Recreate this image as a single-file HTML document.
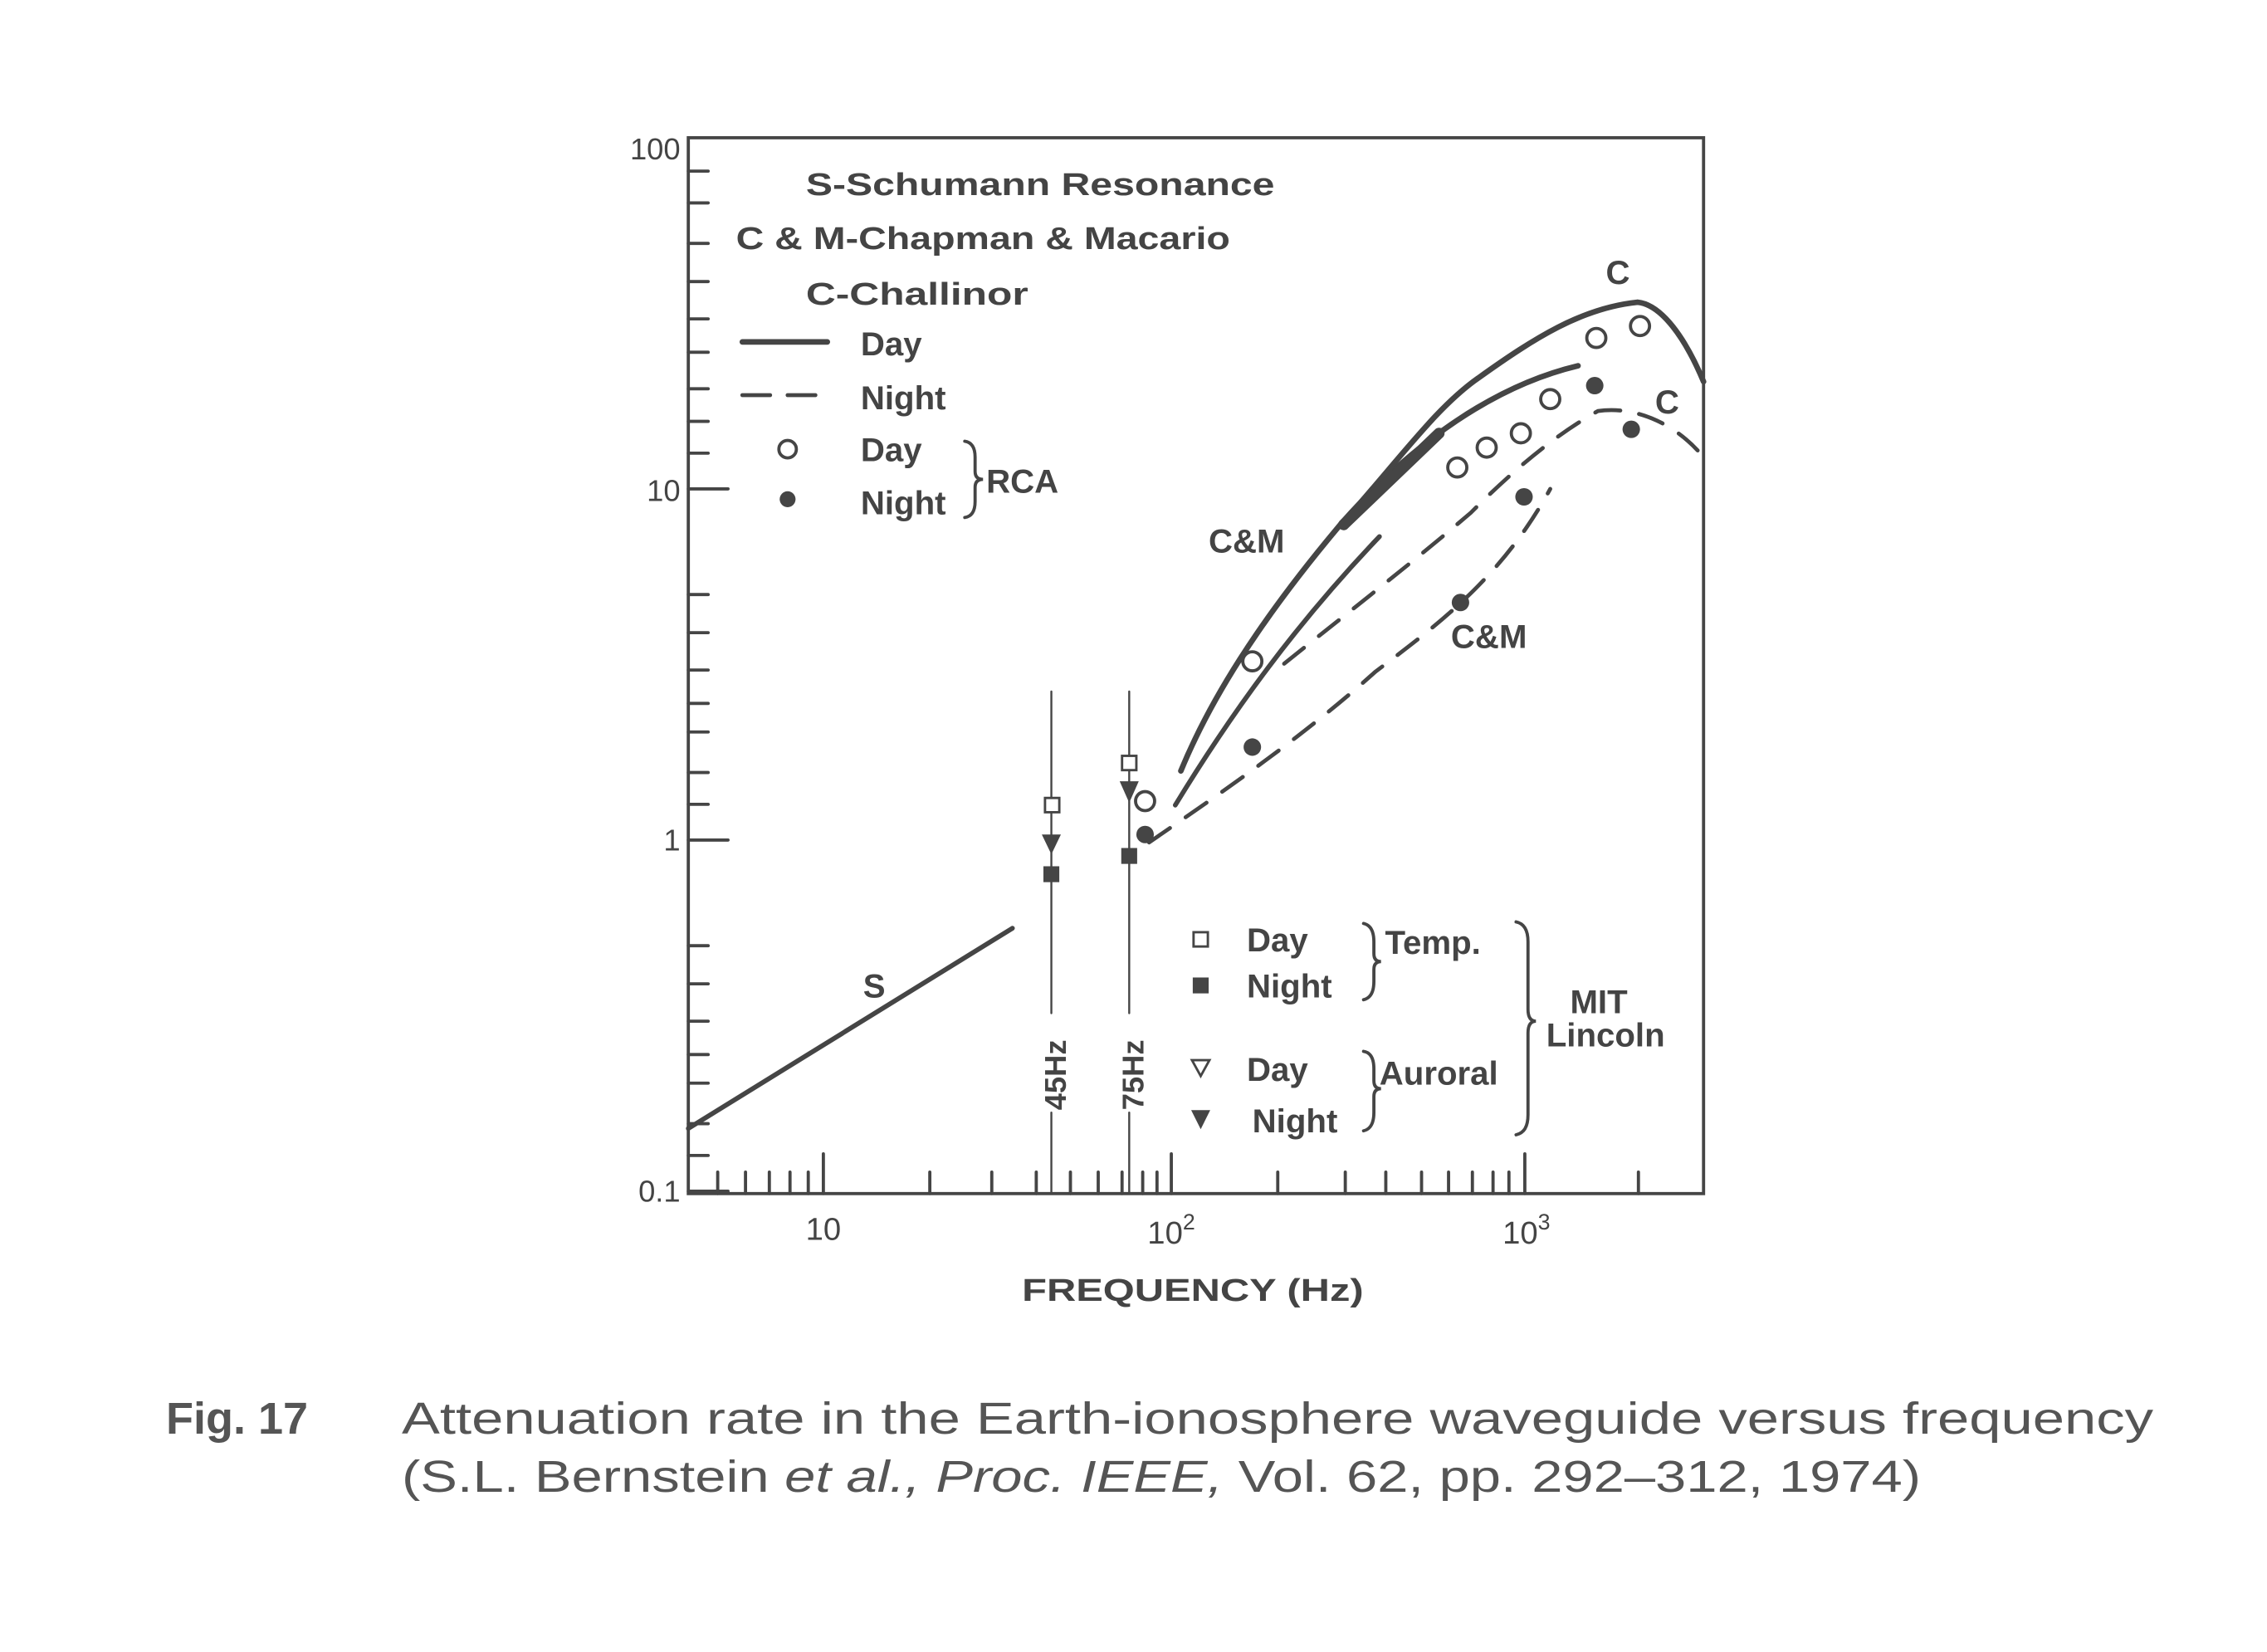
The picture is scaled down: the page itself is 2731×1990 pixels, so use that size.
<!DOCTYPE html>
<html><head><meta charset="utf-8"><style>
html,body{margin:0;padding:0;background:#fff;}
svg{display:block;}
text{font-family:"Liberation Sans",sans-serif;fill:#444;font-weight:bold;}
.n{font-weight:normal;}
</style></head><body>
<svg width="2731" height="1990" viewBox="0 0 2731 1990" xmlns="http://www.w3.org/2000/svg">
<rect width="2731" height="1990" fill="#fff"/>
<g transform="translate(700,120) scale(0.957)" stroke="#454545" fill="none" stroke-linecap="round">
<rect x="135" y="48" width="1278" height="1329" stroke-width="4"/>
<g stroke-width="4">
<path d="M135 490H185M135 932H185M135 1374H185"/>
<path d="M135 181H160M135 229H160M135 276H160M135 318H160M135 364H160M135 445H160M135 405H160"/>
<path d="M135 623H160M135 671H160M135 718H160M135 760H160M135 796H160M135 887H160M135 847H160"/>
<path d="M135 1065H160M135 1113H160M135 1160H160M135 1202H160M135 1238H160M135 1329H160M135 1289H160"/>
<path d="M135 90H160M135 130H160"/>
</g>
<g stroke-width="4">
<path d="M305 1377V1327M743 1377V1327M1188 1377V1327"/>
<path d="M172 1377V1350M207 1377V1350M237 1377V1350M263 1377V1350M286 1377V1350"/>
<path d="M439 1377V1350M517 1377V1350M573 1377V1350M616 1377V1350M651 1377V1350M681 1377V1350M707 1377V1350M725 1377V1350"/>
<path d="M877 1377V1350M962 1377V1350M1013 1377V1350M1058 1377V1350M1092 1377V1350M1122 1377V1350M1148 1377V1350M1168 1377V1350"/>
<path d="M1331 1377V1350"/>
</g>
<path d="M135 1295L543 1043" stroke-width="6"/>
<path d="M592 745V1150M592 1275V1377M690 745V1150M690 1275V1377" stroke-width="2.5"/>
<path d="M755 845C790 760 850 660 960 530C1050 430 1150 360 1255 335" stroke-width="7"/>
<path d="M748 888C820 770 900 660 1005 550" stroke-width="6"/>
<path d="M970 520C1040 440 1080 385 1130 350C1200 300 1260 262 1330 255C1360 258 1390 300 1413 355" stroke-width="7"/>
<path d="M960 535L1080 420" stroke-width="14"/>
<path d="M715 935C780 890 900 810 1000 720C1080 660 1160 600 1220 490" stroke-width="5" stroke-dasharray="32,24"/>
<path d="M885 710C960 650 1050 580 1120 520C1180 460 1230 420 1280 392C1330 385 1380 410 1413 450" stroke-width="5" stroke-dasharray="32,24"/>
<g stroke-width="4" fill="#fff">
<circle cx="845" cy="707" r="12"/><circle cx="710" cy="883" r="12"/>
<circle cx="1103" cy="463" r="12"/><circle cx="1140" cy="438" r="12"/>
<circle cx="1183" cy="420" r="12"/><circle cx="1220" cy="377" r="12"/>
<circle cx="1278" cy="300" r="12"/><circle cx="1333" cy="285" r="12"/>
<circle cx="260" cy="440" r="11"/>
</g>
<g fill="#454545" stroke="none">
<circle cx="845" cy="815" r="11"/><circle cx="710" cy="925" r="11"/>
<circle cx="1107" cy="633" r="11"/><circle cx="1187" cy="500" r="11"/>
<circle cx="1276" cy="360" r="11"/><circle cx="1322" cy="415" r="11"/>
<circle cx="260" cy="503" r="10"/>
<rect x="582" y="965" width="20" height="20"/><rect x="680" y="942" width="20" height="20"/>
<path d="M580 925H604L592 950Z"/><path d="M678 858H702L690 885Z"/>
<rect x="770" y="1105" width="20" height="20"/>
<path d="M768 1272H792L780 1296Z"/>
</g>
<g stroke-width="3" fill="#fff">
<rect x="584" y="879" width="18" height="18"/><rect x="681" y="826" width="18" height="18"/>
<rect x="771" y="1048" width="18" height="18"/>
<path d="M769 1209H791L780 1229Z"/>
</g>
<path d="M203 305H310" stroke-width="7"/>
<path d="M203 372H310" stroke-width="5" stroke-dasharray="35,22"/>
<g stroke-width="4">
<path d="M483 430Q496 432 496 450V468Q496 478 506 478Q496 478 496 488V506Q496 524 483 526"/>
<path d="M985 1037Q998 1040 998 1060V1075Q998 1085 1007 1085Q998 1085 998 1095V1110Q998 1130 985 1133"/>
<path d="M985 1198Q998 1200 998 1220V1235Q998 1245 1007 1245Q998 1245 998 1255V1275Q998 1295 985 1298"/>
<path d="M1177 1035Q1192 1038 1192 1060V1145Q1192 1160 1202 1160Q1192 1160 1192 1175V1278Q1192 1300 1177 1303"/>
</g>
</g>
<g transform="translate(700,120) scale(0.957)" font-size="42">
<text x="283" y="120" font-size="40" textLength="590" lengthAdjust="spacingAndGlyphs">S-Schumann Resonance</text>
<text x="195" y="188" font-size="40" textLength="622" lengthAdjust="spacingAndGlyphs">C &amp; M-Chapman &amp; Macario</text>
<text x="283" y="258" font-size="40" textLength="280" lengthAdjust="spacingAndGlyphs">C-Challinor</text>
<text x="352" y="322">Day</text>
<text x="352" y="390">Night</text>
<text x="352" y="455">Day</text>
<text x="352" y="522">Night</text>
<text x="510" y="495">RCA</text>
<text x="1290" y="232">C</text>
<text x="1352" y="395">C</text>
<text x="790" y="570">C&amp;M</text>
<text x="1095" y="690">C&amp;M</text>
<text x="355" y="1130">S</text>
<text x="838" y="1072">Day</text>
<text x="838" y="1130">Night</text>
<text x="1012" y="1075">Temp.</text>
<text x="838" y="1235">Day</text>
<text x="845" y="1300">Night</text>
<text x="1005" y="1240">Auroral</text>
<text x="1245" y="1150">MIT</text>
<text x="1215" y="1192">Lincoln</text>
<text transform="translate(610,1272) rotate(-90)" font-size="38">45Hz</text>
<text transform="translate(708,1272) rotate(-90)" font-size="38">75Hz</text>
<g class="n" font-size="38" text-anchor="end">
<text class="n" x="125" y="75">100</text><text class="n" x="125" y="505">10</text>
<text class="n" x="125" y="945">1</text><text class="n" x="125" y="1387">0.1</text>
</g>
<g font-size="40" text-anchor="middle">
<text class="n" x="305" y="1435">10</text>
<text class="n" x="743" y="1440">10<tspan font-size="28" dy="-18">2</tspan></text>
<text class="n" x="1190" y="1440">10<tspan font-size="28" dy="-18">3</tspan></text>
</g>
<text x="770" y="1512" text-anchor="middle" font-size="40" textLength="430" lengthAdjust="spacingAndGlyphs">FREQUENCY (Hz)</text>
</g>
<text x="200" y="1727" font-size="54" style="fill:#555">Fig. 17</text>
<text class="n" x="484" y="1727" font-size="54" style="fill:#555" textLength="2110" lengthAdjust="spacingAndGlyphs">Attenuation rate in the Earth-ionosphere waveguide versus frequency</text>
<text class="n" x="484" y="1797" font-size="54" style="fill:#555" textLength="1830" lengthAdjust="spacingAndGlyphs">(S.L. Bernstein <tspan font-style="italic">et al., Proc. IEEE,</tspan> Vol. 62, pp. 292–312, 1974)</text>
</svg>
</body></html>
